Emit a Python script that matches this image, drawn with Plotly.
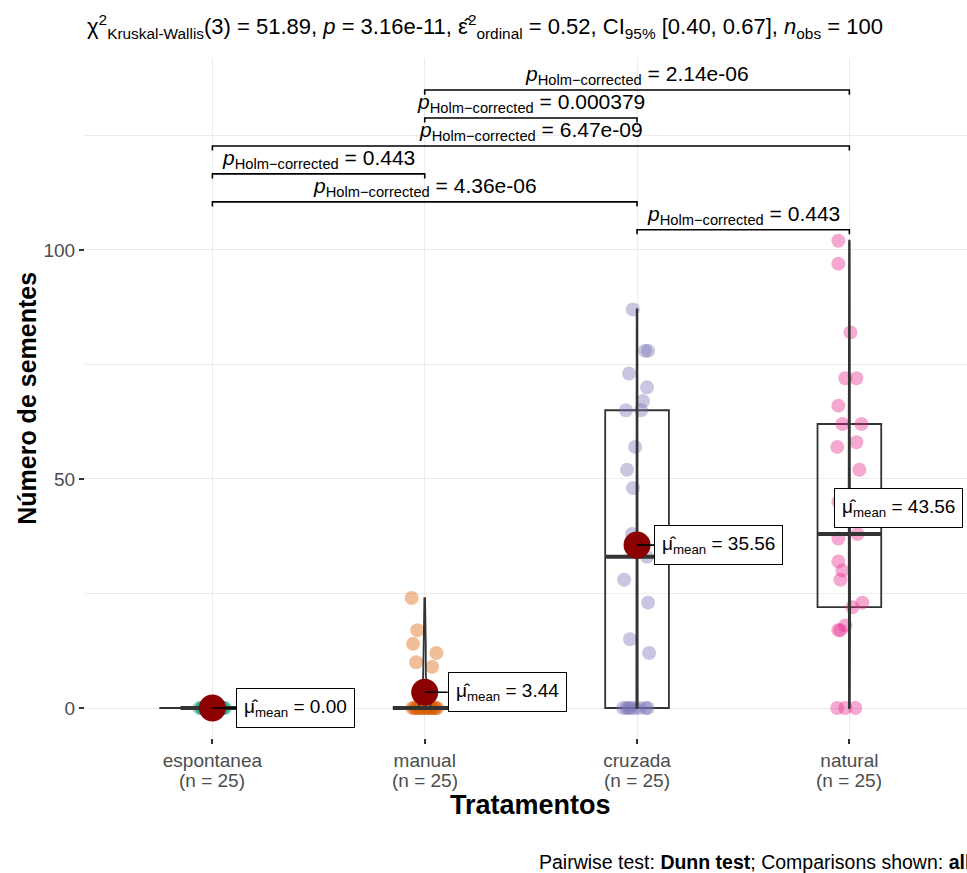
import numpy as np
import plotly.graph_objects as go

# ---------------- data ----------------
categories = ["espontanea", "manual", "cruzada", "natural"]
n_labels = ["(n = 25)", "(n = 25)", "(n = 25)", "(n = 25)"]

espontanea = [0] * 25
manual = [24, 17, 14, 12, 10, 9] + [0] * 19
cruzada = [87, 78, 78, 73, 70, 67, 65, 65, 57, 52, 48, 38, 33, 28, 23, 15, 12,
           0, 0, 0, 0, 0, 0, 0, 0]
natural = [102, 97, 82, 72, 72, 66, 62, 62, 58, 57, 52, 45, 38, 37, 32, 30, 28,
           23, 22, 18, 17, 17, 0, 0, 0]

# jitter offsets (category units)
jit_espontanea = [-0.061, -0.052, -0.047, -0.043, -0.036, -0.031, -0.027, -0.022,
                  -0.016, -0.012, -0.007, -0.003, 0.002, 0.006, 0.011, 0.015,
                  0.021, 0.024, 0.029, 0.034, 0.038, 0.044, 0.049, 0.053, 0.06]
jit_manual = [-0.062, -0.035, -0.055, 0.055, -0.04, 0.035,
              -0.058, -0.05, -0.044, -0.037, -0.03, -0.024, -0.017, -0.01, -0.004,
              0.003, 0.009, 0.016, 0.022, 0.028, 0.035, 0.041, 0.047, 0.053, 0.059]
jit_cruzada = [-0.02, 0.038, 0.052, -0.038, 0.047, 0.028, -0.052, 0.019, -0.009,
               -0.047, -0.019, -0.024, 0.047, -0.061, 0.052, -0.033, 0.057,
               -0.066, -0.05, -0.04, -0.03, -0.012, 0.01, 0.04, 0.05]
jit_natural = [-0.052, -0.052, 0.005, -0.019, 0.033, -0.052, -0.033, 0.057, 0.033,
               -0.057, 0.047, -0.052, 0.038, -0.052, -0.052, -0.033, -0.042,
               0.061, 0.014, -0.019, -0.052, -0.042, -0.057, -0.019, 0.028]

groups = [espontanea, manual, cruzada, natural]
jitters = [jit_espontanea, jit_manual, jit_cruzada, jit_natural]
point_colors = ["rgba(27,158,119,0.4)", "rgba(217,95,2,0.4)",
                "rgba(117,112,179,0.4)", "rgba(231,41,138,0.4)"]

# pairwise comparisons (Dunn test, Holm-corrected), in stacking order
pairs = [(3, 4), (1, 3), (1, 2), (1, 4), (2, 3), (2, 4)]
pair_p = ["0.443", "4.36e-06", "0.443", "6.47e-09", "0.000379", "2.14e-06"]

title_text = ("χ<sup>2</sup><sub>Kruskal-Wallis</sub>(3) = 51.89, <i>p</i> = 3.16e-11, "
              "ε̂<sup>2</sup><sub>ordinal</sub> = 0.52, CI<sub>95%</sub> [0.40, 0.67], "
              "<i>n</i><sub>obs</sub> = 100")
caption_text = "Pairwise test: <b>Dunn test</b>; Comparisons shown: <b>all</b>"

FONT = "Liberation Sans, Arial, sans-serif"
DARK = "#333333"

xpos = [1, 2, 3, 4]
fig = go.Figure()

# ---------------- jittered points ----------------
for i, (vals, jit) in enumerate(zip(groups, jitters)):
    fig.add_trace(go.Scatter(
        x=[xpos[i] + j for j in jit], y=vals, mode="markers",
        marker=dict(size=14, color=point_colors[i], line=dict(width=0)),
        hoverinfo="skip", showlegend=False))

# ---------------- violins (gaussian KDE, bw.nrd0, trimmed, area scaled) ----------------
def bw_nrd0(x):
    x = np.asarray(x, float)
    hi = np.std(x, ddof=1)
    iqr = np.percentile(x, 75) - np.percentile(x, 25)
    lo = min(hi, iqr / 1.34)
    if not lo:
        lo = hi or abs(x[0]) or 1.0
    return 0.9 * lo * len(x) ** -0.2

dens = []
for vals in groups:
    x = np.asarray(vals, float)
    bw = bw_nrd0(x)
    grid = np.linspace(x.min(), x.max(), 512)
    d = np.exp(-0.5 * ((grid[:, None] - x[None, :]) / bw) ** 2).sum(1) / (len(x) * bw * np.sqrt(2 * np.pi))
    dens.append((grid, d))
dmax = max(d.max() for _, d in dens)
for i, (grid, d) in enumerate(dens):
    hw = 0.25 * d / dmax
    vx = np.concatenate([xpos[i] + hw, (xpos[i] - hw)[::-1], [xpos[i] + hw[0]]])
    vy = np.concatenate([grid, grid[::-1], [grid[0]]])
    fig.add_trace(go.Scatter(x=vx, y=vy, mode="lines", fill="toself",
                             fillcolor="rgba(255,255,255,0.2)",
                             line=dict(color=DARK, width=1.8),
                             hoverinfo="skip", showlegend=False))

# ---------------- boxplots ----------------
q1s, meds, q3s, lfs, ufs = [], [], [], [], []
for vals in groups:
    v = np.asarray(vals, float)
    q1, med, q3 = np.percentile(v, [25, 50, 75])
    iqr = q3 - q1
    lf = v[v >= q1 - 1.5 * iqr].min()
    uf = v[v <= q3 + 1.5 * iqr].max()
    q1s.append(q1); meds.append(med); q3s.append(q3); lfs.append(lf); ufs.append(uf)

fig.add_trace(go.Box(x=xpos, q1=q1s, median=meds, q3=q3s, lowerfence=lfs, upperfence=ufs,
                     width=0.3, whiskerwidth=0, boxpoints=False,
                     line=dict(color=DARK, width=1.8),
                     fillcolor="rgba(255,255,255,0.2)",
                     hoverinfo="skip", showlegend=False))
mx, my = [], []
for i, m in enumerate(meds):
    mx += [xpos[i] - 0.15, xpos[i] + 0.15, None]
    my += [m, m, None]
fig.add_trace(go.Scatter(x=mx, y=my, mode="lines", line=dict(color=DARK, width=4),
                         hoverinfo="skip", showlegend=False))

# ---------------- means ----------------
means = [float(np.mean(v)) for v in groups]
fig.add_trace(go.Scatter(x=xpos, y=means, mode="markers",
                         marker=dict(size=27, color="#8B0000"),
                         hoverinfo="skip", showlegend=False))

annotations = []
label_shift = [24, 23, 17, -15]
for i, m in enumerate(means):
    txt = "μ̂<sub>mean</sub> = %.2f" % m
    common = dict(text=txt, font=dict(family=FONT, size=19, color="black"),
                  bgcolor="white", bordercolor="black", borderwidth=1, borderpad=7,
                  xref="x", yref="y", x=xpos[i], y=m, xanchor="left")
    if label_shift[i] > 0:
        annotations.append(dict(showarrow=True, arrowhead=0, arrowwidth=1.6,
                                arrowcolor="black", ax=label_shift[i], ay=0, **common))
    else:
        annotations.append(dict(showarrow=False, xshift=label_shift[i], **common))

# ---------------- significance brackets ----------------
y_top = max(max(v) for v in groups)
step = 6.1
tip = 1.0
bx, by = [], []
for k, ((a, b), p) in enumerate(zip(pairs, pair_p)):
    lvl = y_top + 2.4 + step * k
    bx += [a, a, b, b, None]
    by += [lvl - tip, lvl, lvl, lvl - tip, None]
    annotations.append(dict(
        text="<i>p</i><sub>Holm−corrected</sub> = " + p, showarrow=False,
        xref="x", yref="y", x=(a + b) / 2, y=lvl, yanchor="bottom", yshift=0,
        font=dict(family=FONT, size=21, color="black")))
fig.add_trace(go.Scatter(x=bx, y=by, mode="lines", line=dict(color="black", width=1.6),
                         hoverinfo="skip", showlegend=False))

# ---------------- category sample sizes (second tick-label line) ----------------
for i, nl in enumerate(n_labels):
    annotations.append(dict(text=nl, showarrow=False, xref="x", yref="paper",
                            x=xpos[i], y=-0.0625, xanchor="center", yanchor="middle",
                            font=dict(family=FONT, size=19, color="#4D4D4D")))

# ---------------- titles / captions ----------------
annotations.append(dict(text=title_text, showarrow=False, xref="paper", yref="paper",
                        x=0, y=1.047, xanchor="left", yanchor="middle",
                        font=dict(family=FONT, size=22, color="black")))
annotations.append(dict(text="<b>Tratamentos</b>", showarrow=False, xref="x", yref="paper",
                        x=2.5, y=-0.0985, xanchor="center", yanchor="middle",
                        font=dict(family=FONT, size=27, color="black")))
annotations.append(dict(text="<b>Número de sementes</b>", showarrow=False, xref="paper",
                        yref="paper", x=-0.066, y=0.5, xanchor="center", yanchor="middle",
                        textangle=-90, font=dict(family=FONT, size=25, color="black")))
annotations.append(dict(text=caption_text, showarrow=False, xref="paper", yref="paper",
                        x=0.5125, y=-0.1824, xanchor="left", yanchor="middle",
                        font=dict(family=FONT, size=19.5, color="black")))

fig.update_layout(
    width=967, height=873,
    margin=dict(l=85, r=0, t=58, b=135, autoexpand=False),
    paper_bgcolor="white", plot_bgcolor="white",
    showlegend=False, hovermode=False,
    font=dict(family=FONT, size=19, color="#4D4D4D"),
    annotations=annotations,
    xaxis=dict(range=[0.4, 4.554], tickmode="array", tickvals=xpos,
               ticktext=categories,
               showgrid=True, gridcolor="#EBEBEB", gridwidth=1.2, zeroline=False,
               ticks="outside", ticklen=5, tickwidth=1.5, tickcolor=DARK,
               tickfont=dict(family=FONT, size=19, color="#4D4D4D"), showline=False),
    yaxis=dict(range=[-6.55, 141.9], tickmode="array", tickvals=[0, 50, 100],
               showgrid=True, gridcolor="#EBEBEB", gridwidth=1.2, zeroline=False,
               minor=dict(tickmode="array", tickvals=[25, 75, 125], showgrid=True,
                          gridcolor="#EBEBEB", gridwidth=1, ticks=""),
               ticks="outside", ticklen=5, tickwidth=1.5, tickcolor=DARK,
               tickfont=dict(family=FONT, size=19, color="#4D4D4D"), showline=False),
)

fig.write_html("out.html", config={"displayModeBar": False},
               post_script="document.body.style.margin='0';document.body.style.overflow='hidden';")
